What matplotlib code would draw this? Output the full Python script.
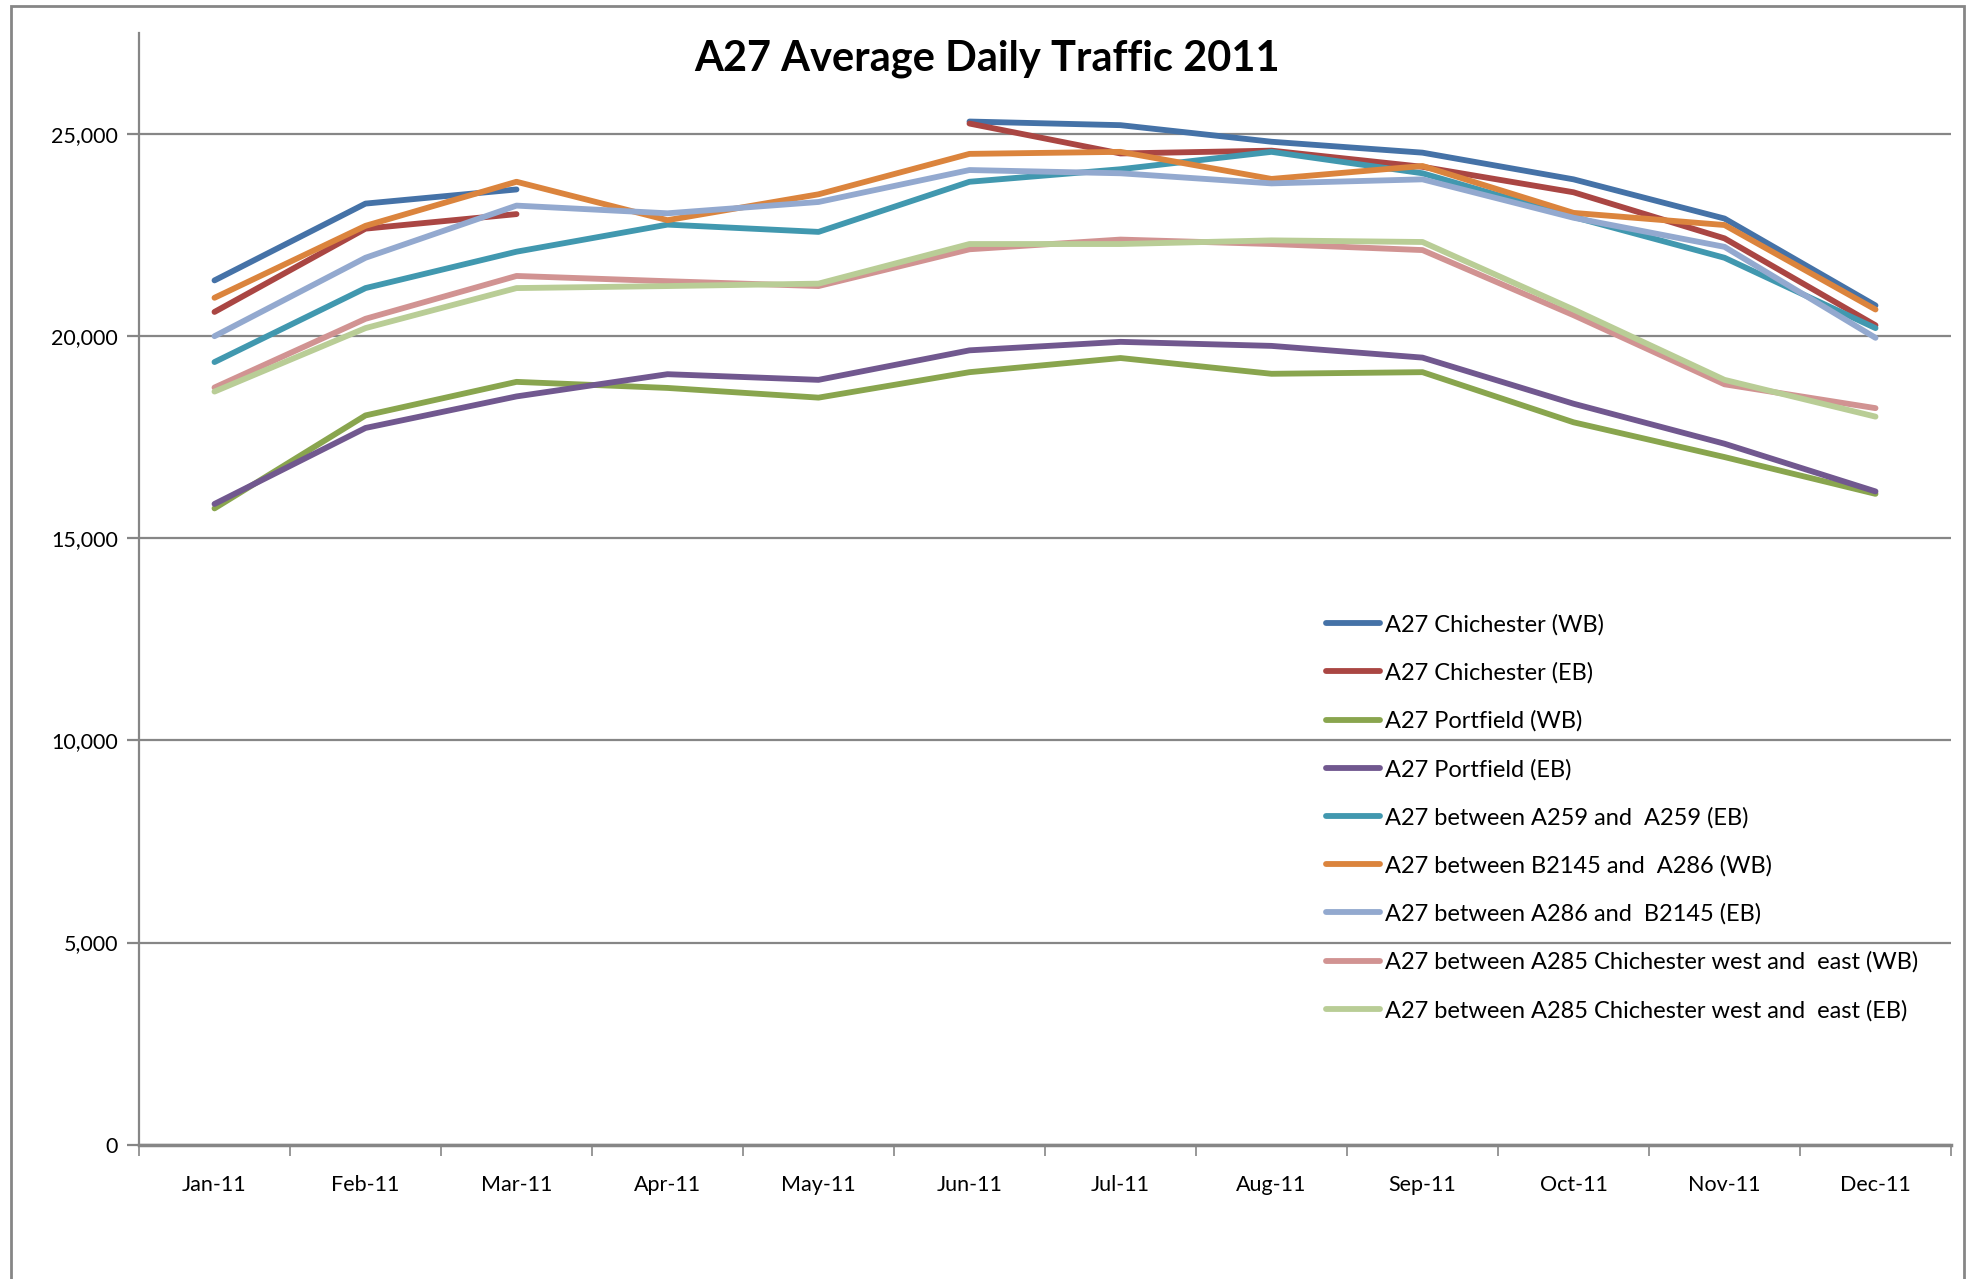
import numpy as np
import matplotlib
matplotlib.use("Agg")
from matplotlib import pyplot as plt
from matplotlib.patches import Rectangle

months = ["Jan-11", "Feb-11", "Mar-11", "Apr-11", "May-11", "Jun-11",
          "Jul-11", "Aug-11", "Sep-11", "Oct-11", "Nov-11", "Dec-11"]
nan = np.nan

chi_wb = [21380, 23280, 23630, nan, nan, 25310, 25220, 24810, 24540, 23880, 22910, 20760]
chi_eb = [20600, 22660, 23020, nan, nan, 25260, 24520, 24590, 24190, 23560, 22420, 20270]
port_wb = [15740, 18040, 18870, 18720, 18480, 19110, 19460, 19070, 19110, 17870, 17010, 16100]
port_eb = [15850, 17730, 18510, 19060, 18920, 19650, 19860, 19760, 19470, 18330, 17340, 16160]
a259_eb = [19360, 21190, 22090, 22760, 22580, 23820, 24130, 24560, 24030, 22950, 21940, 20200]
b2145_wb = [20950, 22730, 23820, 22870, 23510, 24510, 24560, 23890, 24210, 23050, 22750, 20660]
a286_eb = [20000, 21940, 23230, 23040, 23320, 24110, 24030, 23780, 23880, 22930, 22210, 19960]
a285_wb = [18730, 20430, 21490, 21360, 21240, 22150, 22390, 22280, 22130, 20520, 18810, 18220]
a285_eb = [18630, 20200, 21190, 21240, 21300, 22280, 22280, 22370, 22330, 20660, 18920, 18010]

names = ["A27 Chichester (WB)", "A27 Chichester (EB)", "A27 Portfield (WB)",
         "A27 Portfield (EB)", "A27 between A259 and  A259 (EB)",
         "A27 between B2145 and  A286 (WB)", "A27 between A286 and  B2145 (EB)",
         "A27 between A285 Chichester west and  east (WB)",
         "A27 between A285 Chichester west and  east (EB)"]
series = [chi_wb, chi_eb, port_wb, port_eb, a259_eb, b2145_wb, a286_eb, a285_wb, a285_eb]
colors = ["#4572A7", "#AA4643", "#89A54E", "#71588F", "#4198AF",
          "#DB843D", "#93A9CF", "#D19392", "#B9CD96"]

plt.rcParams['font.family'] = ['Lato', 'DejaVu Sans']

fig = plt.figure(figsize=(19.68, 12.79), dpi=100)
# chart area border
fig.patches.append(Rectangle((11/1968, -0.05), (1964-11)/1968, 1.05 - 6/1279,
                             transform=fig.transFigure, fill=False,
                             edgecolor="#868686", linewidth=2))

ax = fig.add_axes([139/1968, 1-1144.7/1279, (1951-139)/1968, (1144.7-33)/1279])
x = np.arange(len(months))
for s, n, c in zip(series, names, colors):
    ax.plot(x, s, color=c, linewidth=4.2, label=n, solid_capstyle='round')

ax.set_xlim(-0.5, 11.5)
ax.set_ylim(0, 27500)
ax.set_yticks(np.arange(0, 25001, 5000))
ax.set_yticklabels(["{:,}".format(v) for v in range(0, 25001, 5000)], fontsize=15.5)
ax.grid(axis='y', color="#868686", linewidth=1.6)
ax.set_axisbelow(True)

ax.set_xticks(np.arange(-0.5, 12, 1))
ax.set_xticklabels([])
ax.set_xticks(x, minor=True)
ax.set_xticklabels(months, minor=True, fontsize=15.5)
ax.tick_params(axis='x', which='minor', length=0, pad=22)
ax.tick_params(axis='x', which='major', length=8, color="#868686", width=1.2)
ax.tick_params(axis='y', length=9, color="#868686", width=1.6, pad=6)

for sp in ["top", "right"]:
    ax.spines[sp].set_visible(False)
ax.spines["left"].set_color("#868686")
ax.spines["left"].set_linewidth(1.6)
ax.spines["bottom"].set_color("#868686")
ax.spines["bottom"].set_linewidth(2.5)

fig.text(987/1968, 1-59/1279, "A27 Average Daily Traffic 2011", ha='center', va='center',
         fontsize=30, fontweight='bold')

ax.legend(loc='upper left', bbox_to_anchor=(1326/1968, 1-614/1279),
          bbox_transform=fig.transFigure, frameon=False, fontsize=17,
          handlelength=2.3, handletextpad=0.2, labelspacing=1.13, borderpad=0,
          borderaxespad=0)

fig.savefig("out.png", dpi=100)
